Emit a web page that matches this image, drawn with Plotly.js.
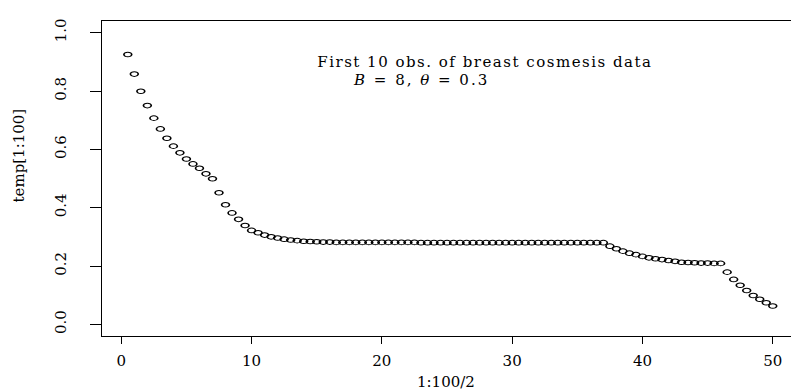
<!DOCTYPE html>
<html>
<head>
<meta charset="utf-8">
<script src="https://cdn.plot.ly/plotly-3.0.1.min.js"></script>
<style>html,body{margin:0;padding:0;background:#fff;}#chart{width:791px;height:392px;}</style>
</head>
<body>
<div id="chart"></div>
<script>
// x = 1:100/2
const xVals = [0.5,1,1.5,2,2.5,3,3.5,4,4.5,5,5.5,6,6.5,7,7.5,8,8.5,9,9.5,10,
  10.5,11,11.5,12,12.5,13,13.5,14,14.5,15,15.5,16,16.5,17,17.5,18,18.5,19,19.5,20,
  20.5,21,21.5,22,22.5,23,23.5,24,24.5,25,25.5,26,26.5,27,27.5,28,28.5,29,29.5,30,
  30.5,31,31.5,32,32.5,33,33.5,34,34.5,35,35.5,36,36.5,37,37.5,38,38.5,39,39.5,40,
  40.5,41,41.5,42,42.5,43,43.5,44,44.5,45,45.5,46,46.5,47,47.5,48,48.5,49,49.5,50];
// temp[1:100]
const tempVals = [0.925,0.858,0.799,0.750,0.707,0.670,0.638,0.611,0.588,0.567,
  0.550,0.535,0.516,0.499,0.451,0.410,0.382,0.360,0.339,0.322,
  0.314,0.306,0.300,0.296,0.292,0.289,0.287,0.285,0.284,0.283,
  0.282,0.282,0.281,0.281,0.281,0.281,0.281,0.281,0.281,0.281,
  0.281,0.281,0.281,0.281,0.281,0.280,0.280,0.280,0.280,0.280,
  0.280,0.280,0.280,0.280,0.280,0.280,0.280,0.280,0.280,0.280,
  0.280,0.280,0.280,0.280,0.280,0.280,0.280,0.280,0.280,0.280,
  0.280,0.280,0.280,0.280,0.268,0.259,0.251,0.244,0.239,0.233,
  0.228,0.225,0.222,0.219,0.216,0.213,0.212,0.211,0.210,0.210,
  0.209,0.209,0.179,0.154,0.134,0.116,0.099,0.086,0.074,0.063];
const xTicks = [0,10,20,30,40,50];
const yTicks = [0.0,0.2,0.4,0.6,0.8,1.0];
const yTickText = ["0.0","0.2","0.4","0.6","0.8","1.0"];
const titleLine1 = "First 10 obs. of breast cosmesis data";
const titleLine2 = "<i>B</i> = 8, <i>θ</i> = 0.3";
const xLabel = "1:100/2";
const yLabel = "temp[1:100]";

const FONT = "DejaVu Serif, Liberation Serif, serif";
const trace = {
  x: xVals, y: tempVals, type: 'scatter', mode: 'markers',
  marker: {symbol: 'circle-open', size: 4.6, color: '#000', line: {width: 1, color: '#000'}},
  hoverinfo: 'x+y', showlegend: false
};
const layout = {
  width: 791, height: 392,
  margin: {l: 102, r: 0, t: 21, b: 56},
  paper_bgcolor: '#fff', plot_bgcolor: '#fff',
  font: {family: FONT, size: 15, color: '#000'},
  xaxis: {
    range: [-1.48, 51.4], tickvals: xTicks, ticktext: xTicks.map(String),
    showgrid: false, zeroline: false, showline: true, mirror: true,
    linecolor: '#000', linewidth: 1, ticks: 'outside', ticklen: 7, tickwidth: 1, tickcolor: '#000',
    tickfont: {family: FONT, size: 15, color: '#000'}, ticklabelstandoff: 4
  },
  yaxis: {
    range: [-0.04, 1.04], tickvals: yTicks, ticktext: yTickText,
    showgrid: false, zeroline: false, showline: true, mirror: false,
    linecolor: '#000', linewidth: 1, ticks: 'outside', ticklen: 11, tickwidth: 1, tickcolor: '#000',
    tickangle: -90, tickfont: {family: FONT, size: 15, color: '#000'}, ticklabelstandoff: 18
  },
  annotations: [
    {text: titleLine1, xref: 'x', yref: 'y', x: 27.9, y: 0.901, showarrow: false,
     xanchor: 'center', yanchor: 'middle', font: {family: FONT, size: 15, color: '#000'}},
    {text: titleLine2, xref: 'x', yref: 'y', x: 23.0, y: 0.838, showarrow: false,
     xanchor: 'center', yanchor: 'middle', font: {family: FONT, size: 15, color: '#000'}},
    {text: xLabel, xref: 'x', yref: 'paper', x: 24.9, y: -0.146, showarrow: false,
     xanchor: 'center', yanchor: 'middle', font: {family: FONT, size: 15, color: '#000'}},
    {text: yLabel, xref: 'paper', yref: 'y', x: -0.12, y: 0.58, showarrow: false, textangle: -90,
     xanchor: 'center', yanchor: 'middle', font: {family: FONT, size: 15, color: '#000'}}
  ]
};
Plotly.newPlot('chart', [trace], layout, {displayModeBar: false, staticPlot: true}).then(function(gd){
  gd.querySelectorAll('.scatterlayer .point').forEach(function(p){
    const t = p.getAttribute('transform') || '';
    p.setAttribute('transform', t + ' scale(1.7,1)');
  });
  const ann = gd.querySelectorAll('.annotation-text');
  if (ann[0]) ann[0].style.letterSpacing = '1.5px';
  if (ann[1]) ann[1].style.letterSpacing = '2px';
});
</script>
</body>
</html>
